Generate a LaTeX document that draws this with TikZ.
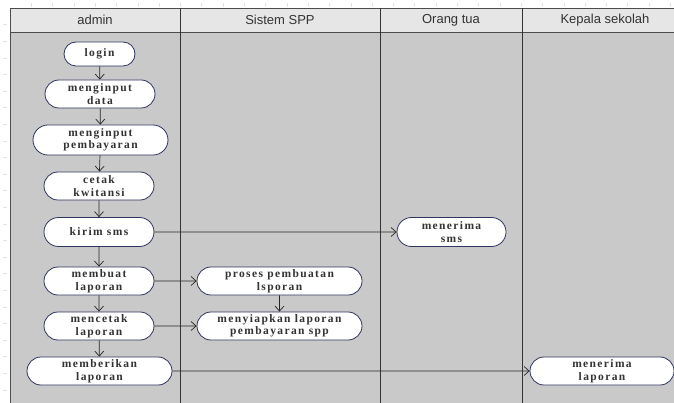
\documentclass[tikz,border=0pt]{standalone}
\usepackage{fontspec}
\setmainfont{Liberation Serif}
\newfontfamily\hdrfont{Liberation Sans}
\newfontfamily\actfont[LetterSpace=12]{Liberation Serif}
\usetikzlibrary{arrows.meta,shapes.misc}
\definecolor{bodygray}{HTML}{C9C9C9}
\definecolor{headgray}{HTML}{E6E6E6}
\definecolor{navy}{HTML}{2E3560}
\definecolor{txt}{HTML}{333333}
\definecolor{tick}{HTML}{E2E2E2}
\begin{document}
\begin{tikzpicture}[x=1pt,y=-1pt,
  act/.style={rounded rectangle, draw=navy, fill=white, line width=0.8pt,
    align=center, inner sep=0pt, text=txt,
    font=\actfont\bfseries\fontsize{11.5}{12.5}\selectfont},
  hdr/.style={font=\hdrfont\fontsize{13}{14}\selectfont, text=txt, inner sep=0pt},
  flow/.style={-{Straight Barb[length=5pt,width=9pt]}, line width=0.7pt, draw=black!85},
  lane/.style={line width=0.9pt, draw=black!80}]
\useasboundingbox (0,0) rectangle (674,403);
% ruler ticks
\foreach \i in {1,...,31} \draw[tick, line width=0.5pt] (10+\i*21.3,3) -- (10+\i*21.3,7);
\foreach \i in {1,...,23} \draw[tick, line width=0.5pt] (3,8+\i*16.6) -- (7,8+\i*16.6);
% pool
\fill[bodygray] (10,8) rectangle (680,410);
\fill[headgray] (10,8) rectangle (680,32);
\draw[lane, draw=black!70] (10,410) -- (10,8) -- (680,8);
\draw[lane, draw=black!70] (10,32) -- (680,32);
\draw[lane] (180,8) -- (180,410);
\draw[lane] (380,8) -- (380,410);
\draw[lane] (522,8) -- (522,410);
% headers
\node[hdr] (h1) at (95,20) {admin};
\node[hdr] (h2) at (280,20) {Sistem SPP};
\node[hdr] (h3) at (451,20) {Orang tua};
\node[hdr] (h4) at (605,20) {Kepala sekolah};
% activities
\node[act, minimum width=71pt, minimum height=24pt] (login) at (99.5,54) {login};
\node[act, minimum width=110pt, minimum height=28pt] (mdata) at (100,94) {menginput\\data};
\node[act, minimum width=135pt, minimum height=30pt] (mpemb) at (100.5,140) {menginput\\pembayaran};
\node[act, minimum width=110pt, minimum height=28pt] (cetak) at (99,186) {cetak\\kwitansi};
\node[act, minimum width=110pt, minimum height=29pt] (kirim) at (99,232) {kirim sms};
\node[act, minimum width=110pt, minimum height=28pt] (membuat) at (99,281) {membuat\\laporan};
\node[act, minimum width=110pt, minimum height=28pt] (mencetak) at (99,326) {mencetak\\laporan};
\node[act, minimum width=145pt, minimum height=28pt] (memberikan) at (99.5,371) {memberikan\\laporan};
\node[act, minimum width=165pt, minimum height=28pt] (proses) at (279.5,281) {proses pembuatan\\lsporan};
\node[act, minimum width=165pt, minimum height=28pt] (siap) at (279.5,326) {menyiapkan laporan\\pembayaran spp};
\node[act, minimum width=109pt, minimum height=29pt] (tsms) at (451.5,232) {menerima\\sms};
\node[act, minimum width=144pt, minimum height=28pt] (tlap) at (602,371) {menerima\\laporan};
% flows
\draw[flow] (login) -- (mdata);
\draw[flow] (mdata) -- (mpemb);
\draw[flow] (mpemb) -- (cetak);
\draw[flow] (cetak) -- (kirim);
\draw[flow] (kirim) -- (membuat);
\draw[flow] (membuat) -- (mencetak);
\draw[flow] (mencetak) -- (memberikan);
\draw[flow] (kirim) -- (tsms);
\draw[flow] (membuat) -- (proses);
\draw[flow] (mencetak) -- (siap);
\draw[flow] (proses) -- (siap);
\draw[flow] (memberikan) -- (tlap);
\end{tikzpicture}
\end{document}
